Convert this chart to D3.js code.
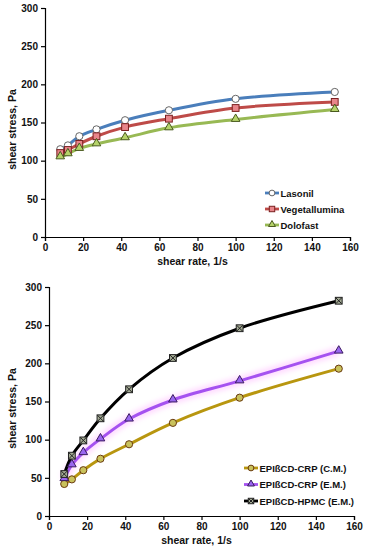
<!DOCTYPE html>
<head>
  <meta charset="utf-8">
  <script src="https://d3js.org/d3.v7.min.js"></script>
  <style>
  body { margin: 0; background: #fff; }
  svg text { font-family: "Liberation Sans", Arial, sans-serif; font-weight: bold; fill: #111; }
  .axis path, .axis line { stroke: #000; stroke-width: 1.2; }
  .axis text { font-size: 10px; }
  </style>
</head>

<body>
  <svg id="chart" width="366" height="550"></svg>
  <script>

    var shearRate = [8, 12, 18, 27, 42, 65, 100, 152];

    var lasonil = [115, 120, 132, 141, 153, 166, 181, 190];
    var vegetallumina = [110, 114, 122, 132, 144, 155, 169, 177];
    var dolofast = [105, 109, 116, 122, 130, 143, 154, 167];

    var cmCrp = [42, 48, 60, 75, 94, 122, 155, 193];
    var emCrp = [49, 67, 83, 101, 127, 152, 177, 216];
    var emHpmc = [55, 79, 99, 128, 166, 207, 246, 282];

    var xTicks = [0, 20, 40, 60, 80, 100, 120, 140, 160];
    var yTicks = [0, 50, 100, 150, 200, 250, 300];

    var topSeries = [
      { name: "Lasonil", values: lasonil, line: "#4a7ebb", fill: "#ffffff", edge: "#666", marker: "circle" },
      { name: "Vegetallumina", values: vegetallumina, line: "#be4b48", fill: "#e8858a", edge: "#7a2020", marker: "square" },
      { name: "Dolofast", values: dolofast, line: "#98b954", fill: "#b5d36a", edge: "#4a5a20", marker: "triangle" }
    ];
    var bottomSeries = [
      { name: "EPIßCD-CRP (C.M.)", values: cmCrp, line: "#b8960f", fill: "#c9c25c", edge: "#6a3a10", marker: "circle" },
      { name: "EPIßCD-CRP (E.M.)", values: emCrp, line: "#a552f0", fill: "#9a66f0", edge: "#3a1a60", marker: "triangle", glow: true },
      { name: "EPIßCD-HPMC (E.M.)", values: emHpmc, line: "#000000", fill: "#a4ab94", edge: "#222", marker: "xsquare" }
    ];

    var svg = d3.select('#chart');

    var defs = svg.append('defs');
    defs.append('filter').attr('id', 'glow').attr('x', '-20%').attr('y', '-50%').attr('width', '140%').attr('height', '200%')
      .append('feGaussianBlur').attr('stdDeviation', 2.5);

    // k scales the marker (legend markers are drawn a bit smaller)
    function marker(g, type, cx, cy, s, k) {
      k = k || 1;
      var m, h = 3.4 * k;
      if (type == "circle") {
        m = g.append('circle').attr('cx', cx).attr('cy', cy).attr('r', 3.6 * k);
      } else if (type == "square") {
        m = g.append('rect').attr('x', cx - h).attr('y', cy - h).attr('width', 2 * h).attr('height', 2 * h);
      } else if (type == "triangle") {
        m = g.append('path').attr('d', d3.symbol(d3.symbolTriangle, 32 * k * k)()).attr('transform', 'translate(' + cx + ',' + (cy - 0.5) + ')');
      } else {
        m = g.append('rect').attr('x', cx - h).attr('y', cy - h).attr('width', 2 * h).attr('height', 2 * h);
        var c = h - 0.4;
        g.append('path')
          .attr('d', 'M' + (cx - c) + ',' + (cy - c) + 'L' + (cx + c) + ',' + (cy + c) + 'M' + (cx + c) + ',' + (cy - c) + 'L' + (cx - c) + ',' + (cy + c))
          .attr('stroke', s.edge).attr('stroke-width', 1);
      }
      m.attr('fill', s.fill).attr('stroke', s.edge).attr('stroke-width', 1);
    }

    function drawPanel(cfg) {
      var x = d3.scaleLinear().domain([0, 160]).range([cfg.left, cfg.right]);
      var y = d3.scaleLinear().domain([0, 300]).range([cfg.bottom, cfg.top]);

      var g = svg.append('g');

      g.append('g').attr('class', 'axis')
        .attr('transform', 'translate(0,' + cfg.bottom + ')')
        .call(d3.axisBottom(x).tickValues(xTicks).tickSize(4).tickSizeOuter(4).tickPadding(3));
      g.append('g').attr('class', 'axis')
        .attr('transform', 'translate(' + cfg.left + ',0)')
        .call(d3.axisLeft(y).tickValues(yTicks).tickSize(4).tickSizeOuter(4).tickPadding(3));

      g.append('text').attr('x', (cfg.left + cfg.right) / 2 - 5).attr('y', cfg.bottom + 28)
        .attr('text-anchor', 'middle').style('font-size', '10.5px').text('shear rate, 1/s');
      g.append('text').attr('transform', 'translate(' + 16 + ',' + ((cfg.top + cfg.bottom) / 2 + 7) + ') rotate(-90)')
        .attr('text-anchor', 'middle').style('font-size', '10.5px').text('shear stress, Pa');

      var line = d3.line()
        .x(function(d, i) { return x(shearRate[i]); })
        .y(function(d) { return y(d); })
        .curve(d3.curveCatmullRom.alpha(0.5));

      cfg.series.forEach(function(s) {
        if (s.glow) {
          g.append('path').attr('d', line(s.values)).attr('fill', 'none')
            .attr('stroke', '#ff99ff').attr('stroke-width', 9).attr('opacity', 0.35)
            .attr('filter', 'url(#glow)');
        }
        g.append('path').attr('d', line(s.values)).attr('fill', 'none')
          .attr('stroke', s.line).attr('stroke-width', 3);
      });
      cfg.series.forEach(function(s) {
        s.values.forEach(function(v, i) {
          marker(g, s.marker, x(shearRate[i]), y(v), s);
        });
      });

      var leg = g.append('g');
      cfg.series.forEach(function(s, i) {
        var ly = cfg.legY + i * cfg.legStep;
        if (s.glow) {
          leg.append('line').attr('x1', cfg.legX).attr('x2', cfg.legX + 14).attr('y1', ly).attr('y2', ly)
            .attr('stroke', '#ff99ff').attr('stroke-width', 8).attr('opacity', 0.35).attr('filter', 'url(#glow)');
        }
        leg.append('line').attr('x1', cfg.legX).attr('x2', cfg.legX + 14).attr('y1', ly).attr('y2', ly)
          .attr('stroke', s.line).attr('stroke-width', 2.8);
        marker(leg, s.marker, cfg.legX + 7, ly, s, 0.8);
        leg.append('text').attr('x', cfg.legX + 15.5).attr('y', ly + 3.5)
          .style('font-size', '9.5px').text(s.name);
      });
    }

    drawPanel({ left: 45, right: 350, top: 8, bottom: 237, series: topSeries, legX: 265, legY: 193, legStep: 16 });
    drawPanel({ left: 49, right: 354, top: 287, bottom: 516, series: bottomSeries, legX: 244, legY: 468, legStep: 16.5 });

  </script>
</body>
